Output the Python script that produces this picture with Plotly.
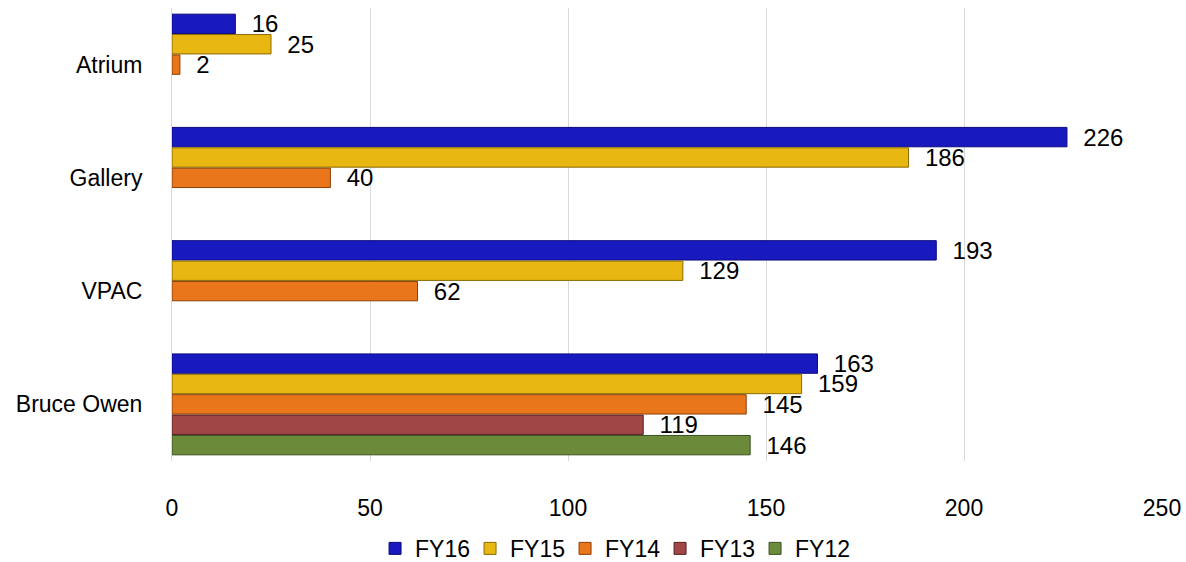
import plotly.graph_objects as go

categories = ["Atrium", "Gallery", "VPAC", "Bruce Owen"]
series_names = ["FY16", "FY15", "FY14", "FY13", "FY12"]
fy16 = [16, 226, 193, 163]
fy15 = [25, 186, 129, 159]
fy14 = [2, 40, 62, 145]
fy13 = [None, None, None, 119]
fy12 = [None, None, None, 146]
x_ticks = [0, 50, 100, 150, 200, 250]

series_values = [fy16, fy15, fy14, fy13, fy12]
colors = ["#1919C0", "#E8B712", "#EA761C", "#A04646", "#6B8B3B"]
edge_colors = ["#0A0A78", "#8A6A05", "#8A4008", "#5A2020", "#3A5020"]

FONT = "Liberation Sans, Arial, sans-serif"

fig = go.Figure()
for name, vals, c, ec in zip(series_names, series_values, colors, edge_colors):
    fig.add_trace(go.Bar(
        name=name,
        y=categories,
        x=vals,
        orientation="h",
        marker=dict(color=c, line=dict(color=ec, width=1)),
        text=[("  " + str(v)) if v is not None else "" for v in vals],
        textposition="outside",
        textfont=dict(family=FONT, size=24, color="#000000"),
        constraintext="none",
        cliponaxis=False,
        hoverinfo="x+name",
    ))

fig.update_layout(
    width=1186,
    height=562,
    barmode="group",
    bargap=0.1,
    bargroupgap=0.05,
    plot_bgcolor="white",
    paper_bgcolor="white",
    margin=dict(l=172, r=24, t=8, b=101, autoexpand=False),
    font=dict(family=FONT, size=23, color="#000000"),
    xaxis=dict(
        range=[0, 250],
        tickvals=x_ticks,
        showgrid=True,
        gridcolor="#D9D9D9",
        gridwidth=1,
        zeroline=False,
        showline=False,
        ticks="outside",
        ticklen=26,
        tickcolor="rgba(0,0,0,0)",
        tickfont=dict(family=FONT, size=23, color="#000000"),
        automargin=False,
        fixedrange=True,
    ),
    yaxis=dict(
        type="category",
        categoryorder="array",
        categoryarray=categories,
        autorange="reversed",
        showgrid=False,
        showline=True,
        linecolor="#D9D9D9",
        linewidth=1,
        ticks="outside",
        ticklen=24,
        tickcolor="rgba(0,0,0,0)",
        tickfont=dict(family=FONT, size=23, color="#000000"),
        automargin=False,
        fixedrange=True,
    ),
    legend=dict(
        orientation="h",
        x=0.445,
        xanchor="center",
        y=-0.193,
        yanchor="middle",
        font=dict(family=FONT, size=23, color="#000000"),
        traceorder="normal",
        entrywidth=50,
        entrywidthmode="pixels",
    ),
    showlegend=True,
)

fig.write_html(
    "out.html",
    config={"displayModeBar": False},
    post_script="document.body.style.margin='0';document.body.style.padding='0';",
)
